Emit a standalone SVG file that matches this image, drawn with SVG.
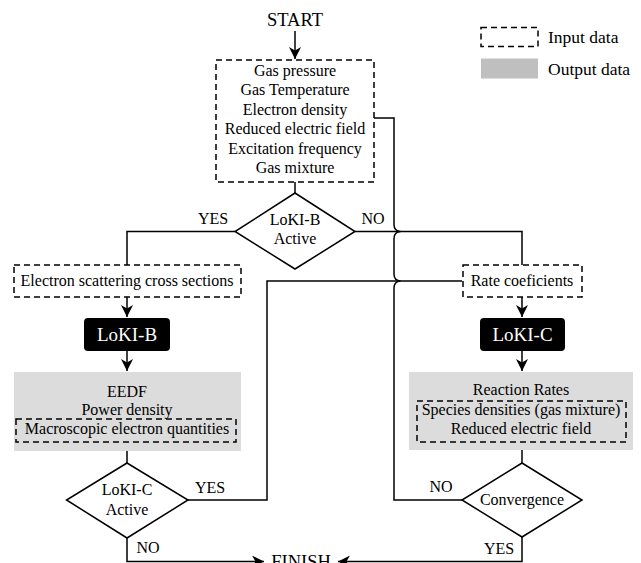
<svg xmlns="http://www.w3.org/2000/svg" width="641" height="563" viewBox="0 0 641 563">
<style>
text{font-family:"Liberation Serif","Times New Roman",serif;font-size:16px;fill:#000;text-anchor:middle}
.big{font-size:18.5px}
.wt{fill:#fff;font-size:19px}
.lg{font-size:17.5px;text-anchor:start}
.ln{fill:none;stroke:#000;stroke-width:1.5}
.dash{fill:none;stroke:#000;stroke-width:1.5;stroke-dasharray:6,4}
.out{fill:#dcdcdc;stroke:none}
.dia{fill:#fff;stroke:#000;stroke-width:1.5}
.blk{fill:#000}
</style>
<defs>
<marker id="arr" viewBox="0 0 13 12" markerWidth="13" markerHeight="12" refX="12" refY="6" orient="auto" markerUnits="userSpaceOnUse">
<path d="M0,0 L12,6 L0,12 L3.5,6 Z" fill="#000"/>
</marker>
</defs>
<rect width="641" height="563" fill="#fff"/>

<g id="connectors">
<line class="ln" x1="295" y1="31" x2="295" y2="59" marker-end="url(#arr)"/>
<line class="ln" x1="295" y1="182" x2="295" y2="193"/>
<polyline class="ln" points="235,231.5 127,231.5 127,265"/>
<polyline class="ln" points="355,231.5 522,231.5 522,265"/>
<path class="ln" d="M374,118 H394 V224.5 Q394,231 400.5,231.5 Q394,232 394,238.5 V274 Q394,280.5 400.5,281 Q394,281.5 394,288 V500 H462"/>
<polyline class="ln" points="188,500 267,500 267,281 462,281"/>
<line class="ln" x1="127" y1="297" x2="127" y2="317" marker-end="url(#arr)"/>
<line class="ln" x1="127" y1="351" x2="127" y2="371" marker-end="url(#arr)"/>
<line class="ln" x1="522" y1="297" x2="522" y2="317" marker-end="url(#arr)"/>
<line class="ln" x1="522" y1="351" x2="522" y2="371" marker-end="url(#arr)"/>
<line class="ln" x1="127" y1="451" x2="127" y2="463"/>
<line class="ln" x1="522" y1="450" x2="522" y2="463"/>
<polyline class="ln" points="127,538 127,561.5 264,561.5" marker-end="url(#arr)"/>
<polyline class="ln" points="522,537 522,561.5 338,561.5" marker-end="url(#arr)"/>
<text x="213" y="224">YES</text>
<text x="373" y="224">NO</text>
<text x="210" y="493">YES</text>
<text x="148" y="553">NO</text>
<text x="441" y="492">NO</text>
<text x="499" y="554">YES</text>
</g>

<g id="start"><text class="big" x="295" y="26">START</text></g>

<g id="input">
<rect class="dash" x="216" y="60" width="158" height="122"/>
<text x="295" y="76">Gas pressure</text>
<text x="295" y="95.4">Gas Temperature</text>
<text x="295" y="114.8">Electron density</text>
<text x="295" y="134.2">Reduced electric field</text>
<text x="295" y="153.6">Excitation frequency</text>
<text x="295" y="173">Gas mixture</text>
</g>

<g id="dec-lokib">
<polygon class="dia" points="295,193 355,231.5 295,269 235,231.5"/>
<text x="295" y="225">LoKI-B</text>
<text x="295" y="244">Active</text>
</g>

<g id="cross-sections">
<rect class="dash" x="14" y="265" width="227" height="32"/>
<text x="127" y="286">Electron scattering cross sections</text>
</g>

<g id="rate-coef">
<rect class="dash" x="463" y="265" width="119" height="32"/>
<text x="522" y="286">Rate coeficients</text>
</g>

<g id="lokib">
<rect class="blk" x="84" y="318" width="86" height="33" rx="4"/>
<text class="wt" x="127" y="341">LoKI-B</text>
</g>

<g id="lokic">
<rect class="blk" x="480" y="318" width="85" height="33" rx="4"/>
<text class="wt" x="522.5" y="341">LoKI-C</text>
</g>

<g id="out-b">
<rect class="out" x="14" y="372" width="227" height="79"/>
<text x="127" y="397">EEDF</text>
<text x="127" y="415">Power density</text>
<rect class="dash" x="16" y="419" width="220" height="23"/>
<text x="127" y="434">Macroscopic electron quantities</text>
</g>

<g id="out-c">
<rect class="out" x="409" y="372" width="224" height="78"/>
<text x="521" y="395">Reaction Rates</text>
<rect class="dash" x="417" y="401" width="209" height="41"/>
<text x="521" y="415">Species densities (gas mixture)</text>
<text x="521" y="434">Reduced electric field</text>
</g>

<g id="dec-lokic">
<polygon class="dia" points="127,463 188,500 127,538 66.5,500"/>
<text x="127" y="495">LoKI-C</text>
<text x="127" y="515">Active</text>
</g>

<g id="dec-conv">
<polygon class="dia" points="522,463 582,500 522,537 462,500"/>
<text x="522" y="505">Convergence</text>
</g>

<g id="finish"><text class="big" x="301" y="568">FINISH</text></g>

<g id="legend">
<rect class="dash" x="481" y="27.5" width="57" height="19"/>
<text class="lg" x="548" y="43">Input data</text>
<rect x="481" y="58.5" width="57" height="20" fill="#bfbfbf"/>
<text class="lg" x="548" y="75">Output data</text>
</g>
</svg>
